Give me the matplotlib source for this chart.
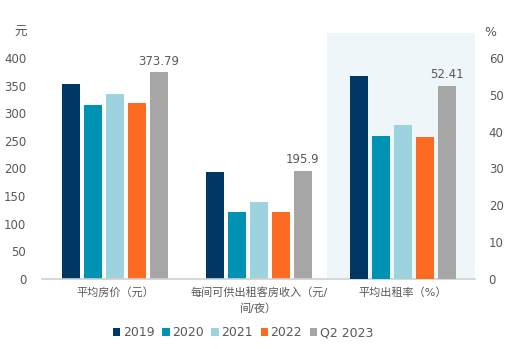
import matplotlib
matplotlib.use("Agg")
import matplotlib.pyplot as plt
import numpy as np
from matplotlib.patches import Rectangle

plt.rcParams['font.family'] = ['DejaVu Sans', 'Noto Sans CJK SC']

categories = ["平均房价（元）", "每间可供出租客房收入（元/\n间/夜）", "平均出租率（%）"]
series = ["2019", "2020", "2021", "2022", "Q2 2023"]
colors = ["#003865", "#0092b3", "#9dd3de", "#fd6a21", "#a6a6a6"]
adr = [353, 315, 335, 318, 373.79]
revpar = [194, 122, 139, 121, 195.9]
occ = [55.1, 38.8, 41.7, 38.4, 52.41]
left_ticks = [0, 50, 100, 150, 200, 250, 300, 350, 400]
right_ticks = [0, 10, 20, 30, 40, 50, 60]

txt = "#595959"
fig = plt.figure(figsize=(5.10, 3.49), dpi=100)
ax = fig.add_axes([0.0843, 0.2006, 0.931 - 0.0843, 0.9054 - 0.2006])
ax2 = ax.twinx()

ax.set_xlim(-0.5, 2.5)
ax.set_ylim(0, 445)
ax2.set_ylim(0, 445 / 400 * 60)

# shaded panel
ax.add_patch(Rectangle((1.47, 0), 1.03, 445, facecolor="#eef6f9", edgecolor="none", zorder=0))

w = 0.125
step = 0.1528
offs = (np.arange(5) - 2) * step
for i in range(5):
    ax.bar(0 + offs[i], adr[i], w, color=colors[i], zorder=2, label=series[i])
    ax.bar(1 + offs[i], revpar[i], w, color=colors[i], zorder=2)
    ax2.bar(2 + offs[i], occ[i], w, color=colors[i], zorder=2)

ax.text(0 + offs[4], adr[4] + 8, "373.79", ha="center", va="bottom", fontsize=8.5, color=txt)
ax.text(1 + offs[4], revpar[4] + 8, "195.9", ha="center", va="bottom", fontsize=8.5, color=txt)
ax2.text(2 + offs[4], occ[4] + 1.2, "52.41", ha="center", va="bottom", fontsize=8.5, color=txt)

ax.set_yticks(left_ticks)
ax2.set_yticks(right_ticks)
ax.set_xticks([0, 1, 2])
ax.set_xticklabels(categories, fontsize=8, color=txt, linespacing=1.6)
for a in (ax, ax2):
    for s in a.spines.values():
        s.set_visible(False)
    a.tick_params(length=0, labelsize=8.5, labelcolor=txt)
ax.tick_params(axis='x', pad=6, labelsize=8)
ax.tick_params(axis='y', pad=12)
ax2.tick_params(axis='y', pad=10)
ax.spines['bottom'].set_visible(True)
ax.spines['bottom'].set_color("#d0d0d0")
ax.spines['bottom'].set_linewidth(1.2)
ax.spines['bottom'].set_bounds(-0.51, 2.5)

fig.text(14 / 510, 1 - 32 / 349, "元", fontsize=9, color=txt, ha="left", va="center")
fig.text(484 / 510, 1 - 32 / 349, "%", fontsize=9, color=txt, ha="left", va="center")

handles, labels = ax.get_legend_handles_labels()
fig.legend(handles, labels, loc="center", bbox_to_anchor=(243 / 510, 1 - 333 / 349), ncol=5,
           frameon=False, fontsize=9, labelcolor=txt, handlelength=0.6, handleheight=0.6,
           handletextpad=0.2, columnspacing=0.6)

fig.savefig("out.png", dpi=100)
